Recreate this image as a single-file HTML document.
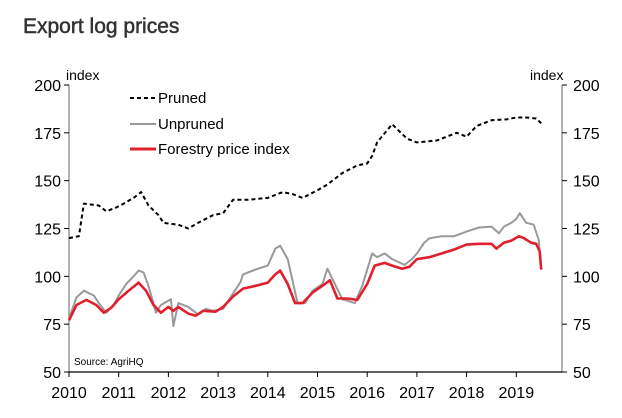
<!DOCTYPE html>
<html><head><meta charset="utf-8"><style>
body{margin:0;background:#fff;}
svg{display:block;font-family:"Liberation Sans",sans-serif;}
</style></head><body>
<svg id="chart" width="622" height="418" viewBox="0 0 622 418">
<text x="23" y="33" font-size="21" fill="#333" stroke="#333" stroke-width="0.5">Export log prices</text>
<g id="axes"></g>
<g id="series"></g>
<g>
<line x1="130" y1="98" x2="156" y2="98" stroke="#000" stroke-width="2" stroke-dasharray="4,3"/>
<text x="158" y="103" font-size="15" fill="#000">Pruned</text>
<line x1="130" y1="124" x2="156" y2="124" stroke="#999" stroke-width="2"/>
<text x="158" y="129" font-size="15" fill="#000">Unpruned</text>
<line x1="130" y1="149" x2="156" y2="149" stroke="#e0202c" stroke-width="3"/>
<text x="158" y="154" font-size="15" fill="#000">Forestry price index</text>
</g>
<text x="66" y="80" font-size="14" fill="#000">index</text>
<text x="530" y="80" font-size="14" fill="#000">index</text>
<text x="74" y="365" font-size="10" fill="#000">Source: AgriHQ</text>
</svg>
<script>
const yTicks=[50,75,100,125,150,175,200];
const xTickLabels=[2010,2011,2012,2013,2014,2015,2016,2017,2018,2019];
const prunedT=[2010.0,2010.2,2010.3,2010.6,2010.75,2010.95,2011.1,2011.3,2011.45,2011.6,2011.8,2011.9,2012.2,2012.4,2012.6,2012.9,2013.1,2013.3,2013.6,2014.0,2014.3,2014.5,2014.7,2015.0,2015.2,2015.5,2015.8,2016.0,2016.1,2016.2,2016.5,2016.6,2016.8,2017.0,2017.4,2017.8,2018.0,2018.2,2018.5,2018.8,2019.0,2019.2,2019.4,2019.5];
const prunedV=[120,121,138,137,134,136,138,141,144,137,132,128,127,125,128,132,133,140,140,141,144,143,141,145,148,154,158,159,163,170,179.5,177,172,170,171,175,173,178.5,181.6,182,183,183,182.5,180];
const unprT=[2010.0,2010.15,2010.3,2010.5,2010.6,2010.75,2010.9,2011.0,2011.15,2011.3,2011.4,2011.5,2011.6,2011.75,2011.85,2012.05,2012.1,2012.2,2012.4,2012.6,2012.75,2012.9,2013.1,2013.3,2013.45,2013.5,2013.75,2014.0,2014.15,2014.25,2014.4,2014.6,2014.75,2014.9,2015.1,2015.2,2015.35,2015.5,2015.75,2015.9,2016.1,2016.2,2016.35,2016.5,2016.75,2016.9,2017.0,2017.15,2017.25,2017.5,2017.75,2018.0,2018.25,2018.5,2018.65,2018.75,2018.9,2019.0,2019.07,2019.2,2019.35,2019.45,2019.5];
const unprV=[78,89,92.5,90,86,81,85,90,96,100,103,102,95,81,85,88,74,86,84,80,83,82,83,91,97,101,103.5,105.6,114.5,116,109,86,86,92.5,96,104,96,88,86,95,112,110,112,109,106,109,112,117.7,119.8,121,121,123.4,125.5,126,122.5,126,128,130,133,128,127,119,104];
const redT=[2010.0,2010.15,2010.35,2010.55,2010.7,2010.85,2011.0,2011.2,2011.4,2011.55,2011.7,2011.85,2012.0,2012.1,2012.2,2012.4,2012.55,2012.7,2012.95,2013.1,2013.3,2013.5,2013.75,2014.0,2014.15,2014.25,2014.4,2014.55,2014.7,2014.9,2015.15,2015.25,2015.4,2015.6,2015.8,2016.0,2016.15,2016.35,2016.5,2016.7,2016.85,2017.0,2017.25,2017.5,2017.75,2018.0,2018.25,2018.5,2018.6,2018.75,2018.9,2019.05,2019.15,2019.3,2019.4,2019.47,2019.5];
const redV=[77,85,87.7,85,81,83.6,88,92.5,96.7,92.5,85,81,84,82,84,80.5,79.4,82,81.5,84,89.4,93.6,95,96.7,101,103,96,86,86,91.5,96,98,88.4,88.4,87.7,96,105.6,107,105.6,104,105,109,110,112,114,116.6,117,117,114.5,117.6,118.7,121,120,117.6,117,113,103.5];
const X0=69,X1=562,Y0=372,Y1=85;
const xs=t=>X0+(t-2010)*49.7;
const ys=v=>Y0-(v-50)*(Y0-Y1)/150;
const NS='http://www.w3.org/2000/svg';
const axes=document.getElementById('axes'),series=document.getElementById('series');
function mk(tag,attrs,parent){const e=document.createElementNS(NS,tag);for(const k in attrs)e.setAttribute(k,attrs[k]);parent.appendChild(e);return e;}
let l=mk('line',{x1:X0,y1:Y1,x2:X0,y2:Y0,stroke:'#888','stroke-width':1.3},axes);


l=mk('line',{x1:X1,y1:Y1,x2:X1,y2:Y0,stroke:'#888','stroke-width':1.3},axes);


l=mk('line',{x1:X0,y1:Y0,x2:X1,y2:Y0,stroke:'#000','stroke-width':1.3},axes);


yTicks.forEach(v=>{const y=ys(v);
 mk('line',{x1:X0-5,y1:y,x2:X0,y2:y,stroke:'#000'},axes);
 mk('line',{x1:X1,y1:y,x2:X1+5,y2:y,stroke:'#000'},axes);
 let t=mk('text',{x:X0-8,y:y+6,'font-size':16,'text-anchor':'end',fill:'#000'},axes);t.textContent=v;
 
 
 t=mk('text',{x:X1+11,y:y+6,'font-size':16,fill:'#000'},axes);t.textContent=v;
 
 
});
xTickLabels.forEach(yr=>{const x=xs(yr);
 mk('line',{x1:x,y1:Y0,x2:x,y2:Y0+5,stroke:'#000'},axes);
 const t=mk('text',{x:x,y:398,'font-size':16,'text-anchor':'middle',fill:'#000'},axes);t.textContent=yr;
 
 
});
function line(T,V,attrs,name){const d=T.map((t,i)=>(i?'L':'M')+xs(t).toFixed(1)+','+ys(V[i]).toFixed(1)).join('');
 const p=mk('path',Object.assign({d:d,fill:'none','stroke-linejoin':'round'},attrs),series);
 
 }
line(unprT,unprV,{stroke:'#999','stroke-width':2},'unpruned-line');
line(redT,redV,{stroke:'#e0202c','stroke-width':2.6},'forestry-price-index-line');
line(prunedT,prunedV,{stroke:'#000','stroke-width':2,'stroke-dasharray':'4,3'},'pruned-line');
</script>
</body></html>
